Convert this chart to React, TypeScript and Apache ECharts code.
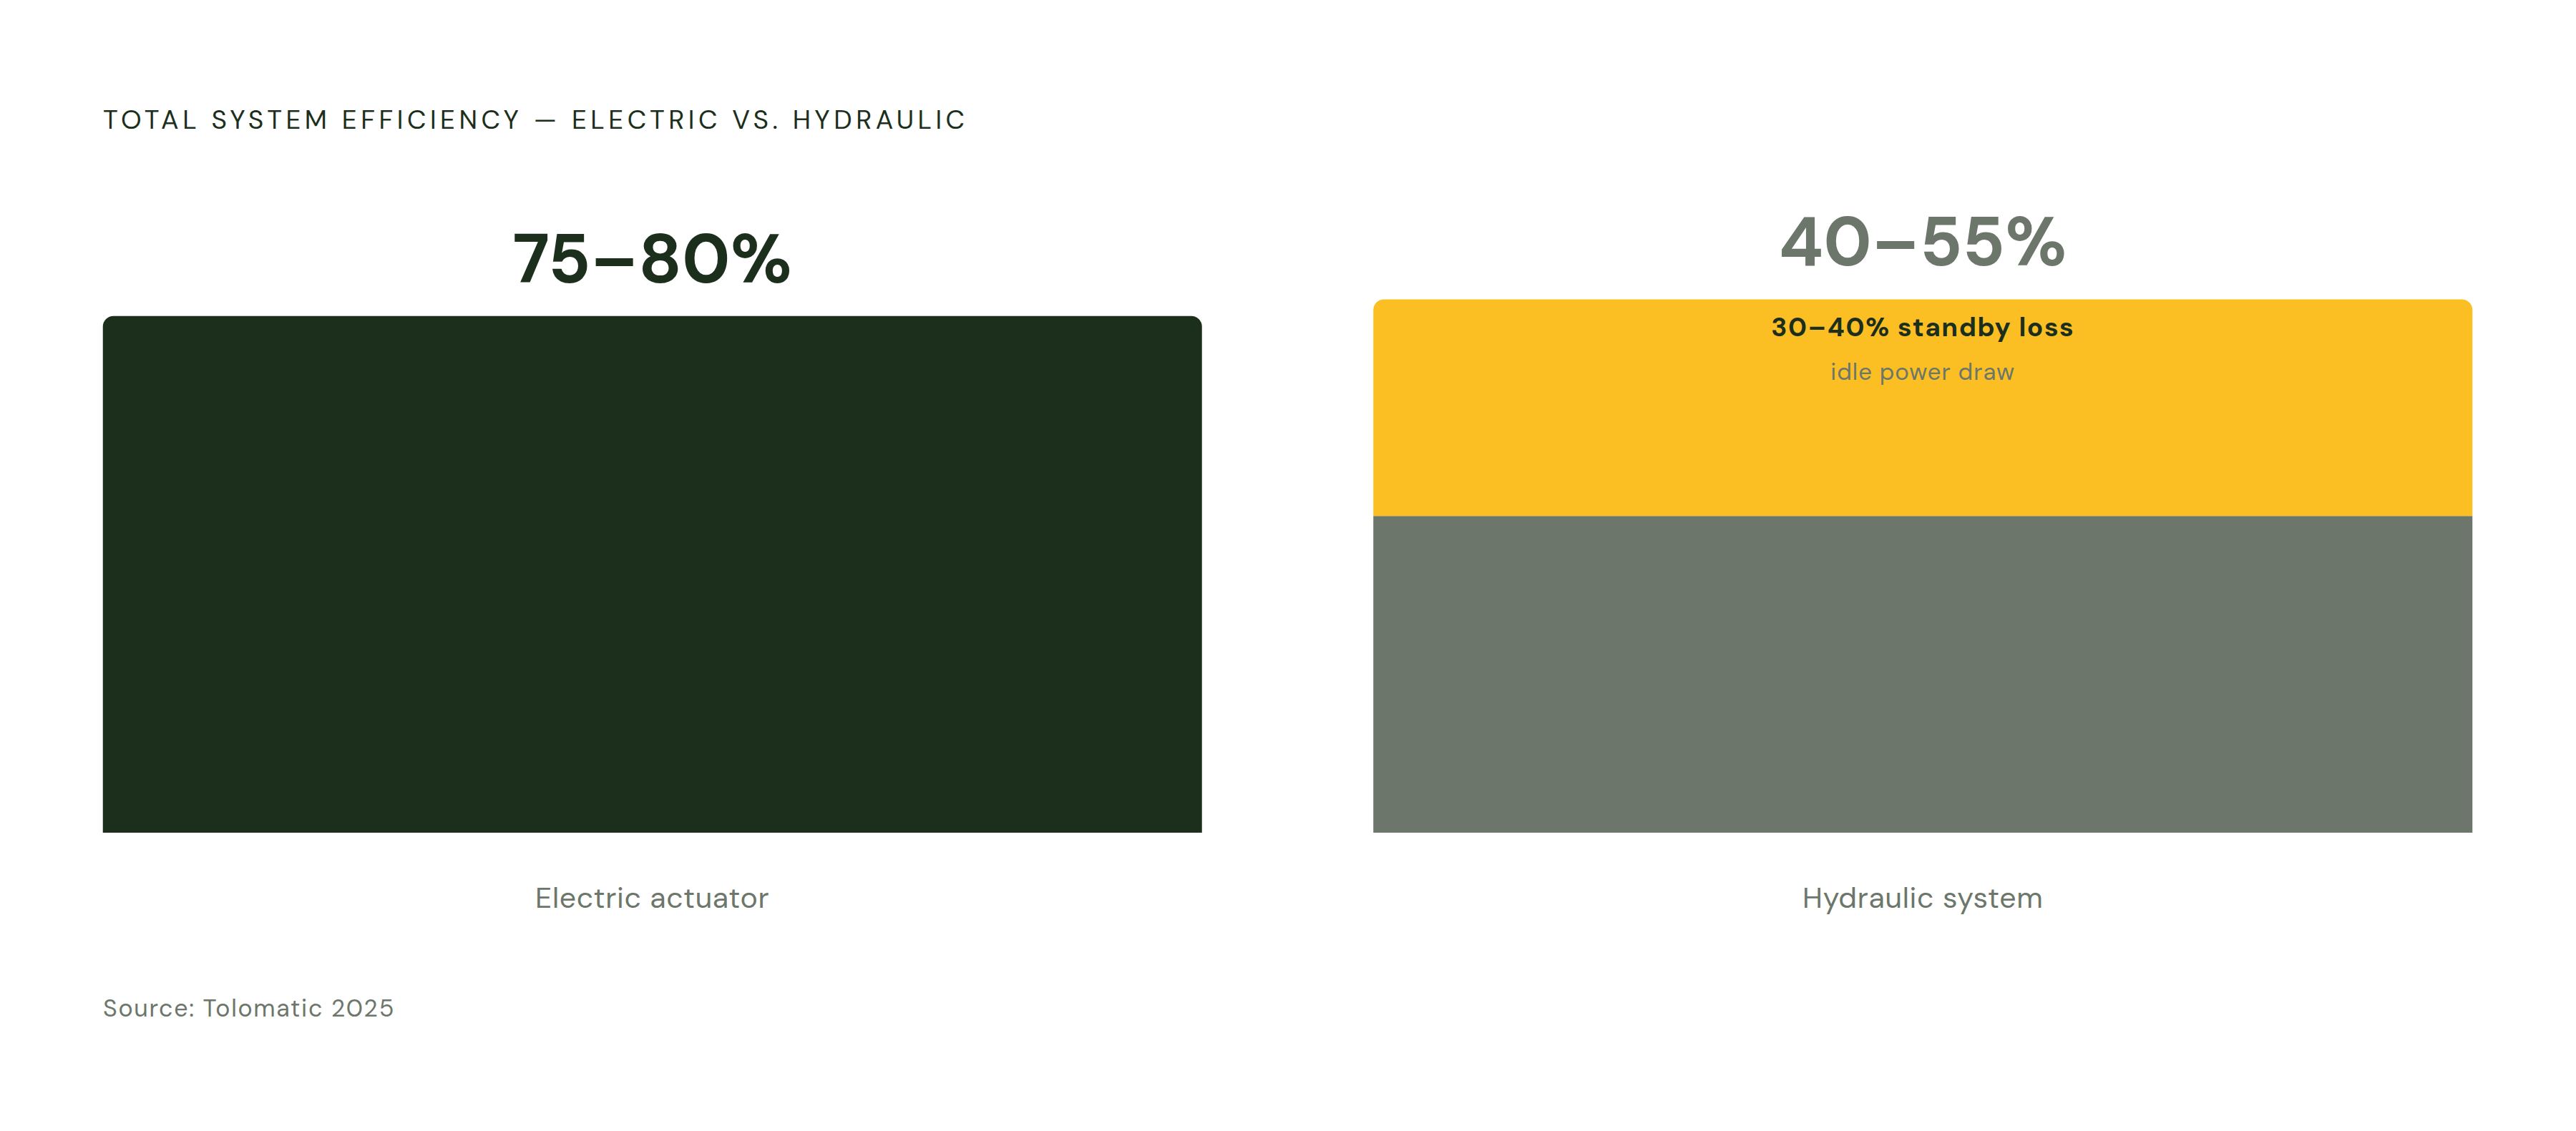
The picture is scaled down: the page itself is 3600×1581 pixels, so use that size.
import React, { useEffect, useRef } from 'react'
import * as echarts from 'echarts'

const categories = ['Electric actuator', 'Hydraulic system']
// midpoint of each efficiency range, in %
const efficiency = [77.5, 47.5]
const standbyLoss = ['-', 32.5]
const rangeLabels = ['75–80%', '40–55%']
const lossLabel = '30–40% standby loss'
const lossNote = 'idle power draw'
const chartTitle = 'TOTAL SYSTEM EFFICIENCY — ELECTRIC VS. HYDRAULIC'
const sourceNote = 'Source: Tolomatic 2025'

const DARK = '#1c2e1c'
const GREY = '#6c766a'
const AMBER = '#fbbf24'
const FONT = "'DM Sans', Inter, 'Noto Sans', sans-serif"

// tracking (px) for texts that are letter-spaced in the design
const tracking: Record<string, number> = {
  [chartTitle]: 5.5,
  [sourceNote]: 1.7,
  [lossLabel]: 1.5,
  [lossNote]: 1,
  'Electric actuator': 0.7,
  'Hydraulic system': 0.7
}

export default function App() {
  const ref = useRef<HTMLDivElement | null>(null)

  useEffect(() => {
    if (!ref.current) return
    const chart = echarts.init(ref.current, null, { renderer: 'svg' })

    const opt: echarts.EChartsOption = {
      animation: false,
      backgroundColor: '#ffffff',
      textStyle: { fontFamily: FONT },
      grid: { left: 24, right: 25, top: 232, bottom: 417 },
      xAxis: {
        type: 'category',
        data: categories,
        z: 10,
        axisTick: { show: false },
        axisLine: { lineStyle: { color: 'rgba(255,255,255,0.5)', width: 1 } },
        axisLabel: { margin: 70, fontSize: 41, color: GREY, fontFamily: FONT }
      },
      yAxis: {
        type: 'value',
        min: 0,
        max: 100,
        show: false,
        splitLine: { show: false }
      },
      series: [
        {
          name: 'Efficiency',
          type: 'bar',
          stack: 'total',
          barWidth: 1536,
          data: efficiency.map((v, i) => ({
            value: v,
            itemStyle: i === 0
              ? { color: DARK, borderRadius: [15, 15, 0, 0] }
              : { color: GREY, borderRadius: 0 },
            label: i === 0
              ? {
                  show: true,
                  position: 'top',
                  distance: 31,
                  formatter: rangeLabels[0],
                  fontSize: 96,
                  fontWeight: 'bold',
                  color: DARK,
                  fontFamily: FONT
                }
              : { show: false }
          }))
        },
        {
          name: 'Standby loss',
          type: 'bar',
          stack: 'total',
          barWidth: 1536,
          itemStyle: { color: AMBER, borderRadius: [15, 15, 0, 0] },
          label: {
            show: true,
            position: 'insideTop',
            distance: 13,
            formatter: `{a|${lossLabel}}\n{b|${lossNote}}`,
            rich: {
              a: { fontSize: 37, fontWeight: 'bold', color: DARK, lineHeight: 52, fontFamily: FONT },
              b: { fontSize: 33, color: GREY, lineHeight: 72, fontFamily: FONT }
            }
          },
          data: standbyLoss
        },
        {
          name: 'Range',
          type: 'bar',
          stack: 'total',
          barWidth: 1536,
          itemStyle: { color: 'transparent' },
          label: {
            show: true,
            position: 'top',
            distance: 32,
            formatter: rangeLabels[1],
            fontSize: 96,
            fontWeight: 'bold',
            color: GREY,
            fontFamily: FONT
          },
          data: ['-', 0]
        }
      ],
      graphic: [
        {
          type: 'text',
          x: 144,
          y: 167,
          style: {
            text: chartTitle,
            fontSize: 37,
            fill: DARK,
            fontFamily: FONT,
            verticalAlign: 'middle'
          }
        },
        {
          type: 'text',
          x: 144,
          y: 1409,
          style: {
            text: sourceNote,
            fontSize: 34,
            fill: GREY,
            fontFamily: FONT,
            verticalAlign: 'middle'
          }
        }
      ]
    }

    const applyTracking = () => {
      if (!ref.current) return
      ref.current.querySelectorAll('text').forEach(t => {
        const s = tracking[t.textContent || '']
        if (s != null) (t as SVGTextElement).style.letterSpacing = s + 'px'
      })
    }

    chart.on('finished', applyTracking)
    chart.setOption(opt)
    applyTracking()
    const onResize = () => chart.resize()
    window.addEventListener('resize', onResize)
    return () => { window.removeEventListener('resize', onResize); chart.dispose() }
  }, [])

  return (
    <div
      ref={ref}
      style={{
        position: 'fixed',
        top: 0,
        left: 0,
        width: '100vw',
        height: '100vh',
        background: '#ffffff'
      }}
    />
  )
}
